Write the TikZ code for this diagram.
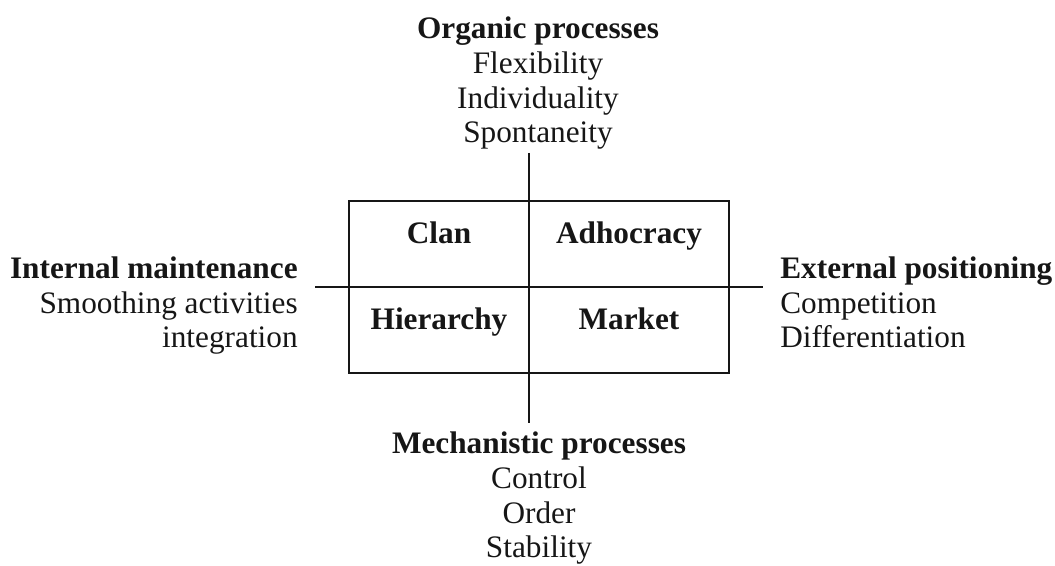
\documentclass[tikz,border=0pt]{standalone}
\usepackage{fontspec}
\setmainfont{Liberation Serif}
\usepackage{tikz}
\usetikzlibrary{positioning}
\definecolor{cvfink}{RGB}{22,22,22}

\begin{document}
\begin{tikzpicture}[every node/.style={inner sep=0pt,text=cvfink,font=\fontsize{17.8}{19.9}\selectfont},
  quadlabel/.style={font=\fontsize{17.8}{19.9}\selectfont\bfseries,anchor=base}]
\useasboundingbox (0,0) rectangle (21.1,11.32);
% quadrant frame and the two axes
\draw[cvfink,line width=1pt] (6.98,3.86) rectangle (14.58,7.30);
\draw[cvfink,line width=1pt] (6.30,5.58) -- (15.26,5.58);
\draw[cvfink,line width=1pt] (10.58,8.26) -- (10.58,2.86);
% culture types
\node[quadlabel] (clan) at (8.78,6.44) {Clan};
\node[quadlabel] (adhocracy) at (12.58,6.44) {Adhocracy};
\node[quadlabel] (hierarchy) at (8.78,4.72) {Hierarchy};
\node[quadlabel] (market) at (12.58,4.72) {Market};
% axis ends (base = last line)
\node[align=center,anchor=base] (organic) at (10.76,8.46) {\textbf{Organic processes}\\Flexibility\\Individuality\\Spontaneity};
\node[align=center,anchor=base] (mechanistic) at (10.78,0.16) {\textbf{Mechanistic processes}\\Control\\Order\\Stability};
\node[align=right,anchor=base east] (internal) at (5.96,4.36) {\textbf{Internal maintenance}\\Smoothing activities\\integration};
\node[align=left,anchor=base west] (external) at (15.60,4.36) {\textbf{External positioning}\\Competition\\Differentiation};
\end{tikzpicture}
\end{document}
